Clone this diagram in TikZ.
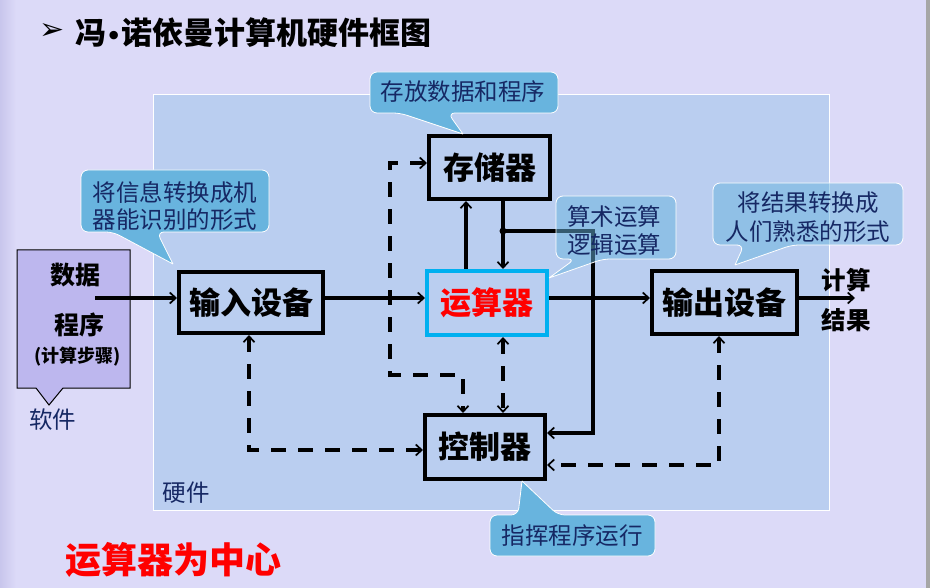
\documentclass[tikz,border=0pt]{standalone}
\usepackage{fontspec}
\setmainfont{Noto Sans CJK SC}
\newfontfamily\symfont{DejaVu Sans}
\usetikzlibrary{arrows.meta}
\definecolor{bg}{RGB}{220,218,248}
\definecolor{bgdark}{RGB}{200,198,236}
\definecolor{hw}{RGB}{186,206,240}
\definecolor{sw}{RGB}{189,183,238}
\definecolor{callfill}{RGB}{104,180,222}
\definecolor{navy}{RGB}{22,40,100}
\definecolor{cyanb}{RGB}{0,176,240}
\begin{document}
\begin{tikzpicture}[x=1pt,y=-1pt,
  unitbox/.style={draw=black,line width=4pt,inner sep=0pt,font=\fontsize{31}{31}\bfseries\selectfont},
  tip/.tip={Straight Barb[length=6pt,width=11pt,line width=1.7pt]},
  conn/.style={line width=3.2pt,-tip},
  dconn/.style={line width=3.2pt,dash pattern=on 15pt off 12pt,tip-tip},
  callout/.style={fill=callfill,draw=white,line width=0.8pt,rounded corners=7pt},
  callouttp/.style={callout,fill opacity=0.5},
  calltext/.style={text=navy,align=center,inner sep=0pt,font=\fontsize{23.5}{28}\selectfont},
  lbl/.style={inner sep=0pt,font=\fontsize{24.5}{24.5}\bfseries\selectfont}
]
\useasboundingbox (0,0) rectangle (930,588);
% background
\fill[bg] (0,0) rectangle (930,588);
\shade[left color=bgdark,right color=bg] (0,0) rectangle (16,588);
\fill[gray!70] (926,0) rectangle (930,588);
% hardware area
\draw[fill=hw,draw=white,line width=1pt] (153,95) rectangle (829,510);
\node[text=navy,inner sep=0pt,font=\fontsize{23.5}{23.5}\selectfont] (hwlbl) at (186,493) {硬件};

% title
\node[inner sep=0pt,font=\symfont\fontsize{30}{30}\selectfont] (tarrow) at (52,32) {➢};
\node[anchor=west,inner sep=0pt,font=\fontsize{31}{31}\bfseries\selectfont] (title) at (75,33) {冯{\symfont\bfseries\fontsize{24}{24}\selectfont •}诺依曼计算机硬件框图};

% software box
\path[fill=sw,draw=black,line width=1pt] (49,405) -- (36,388) -- (17,388) -- (17,250) -- (130,250) -- (130,388) -- (63,388) -- cycle;
\node[lbl,font=\fontsize{25}{25}\bfseries\selectfont] (data) at (75,275) {数据};
\node[lbl,font=\fontsize{25}{25}\bfseries\selectfont] (prog) at (79,325) {程序};
\node[lbl,font=\fontsize{18}{18}\bfseries\selectfont] (steps) at (78,357) {(计算步骤)};
\node[text=navy,inner sep=0pt,font=\fontsize{23.5}{23.5}\selectfont] (swlbl) at (53,420) {软件};

% units
\node[unitbox,minimum width=121pt,minimum height=63pt] (mem) at (489.5,167.5) {存储器};
\node[unitbox,minimum width=144pt,minimum height=61pt] (in) at (251,302.5) {输入设备};
\node[unitbox,draw=cyanb,text=red,minimum width=120pt,minimum height=64pt] (alu) at (487,303) {运算器};
\node[unitbox,minimum width=145pt,minimum height=63pt] (out) at (724.5,302.5) {输出设备};
\node[unitbox,minimum width=120pt,minimum height=64pt] (ctl) at (485,447) {控制器};

% outputs text
\node[lbl] (res1) at (846,280) {计算};
\node[lbl] (res2) at (846,320) {结果};

% helper coordinates
\coordinate (s1) at (95,298);
\coordinate (res) at (855,298);
\coordinate (xa) at (466,0);
\coordinate (xb) at (503,0);
\coordinate (dot) at (503,231);
\coordinate (c1) at (593,433);
\coordinate (d1) at (390,163);
\coordinate (d2) at (463,375);
\coordinate (d3) at (249,450);
\coordinate (d4) at (719,465);

% solid connectors
\draw[conn] (s1) -- (s1 -| in.west);
\draw[conn] (in.east |- s1) -- (alu.west |- s1);
\draw[conn] (alu.east |- s1) -- (out.west |- s1);
\draw[conn] (out.east |- s1) -- (res);
\draw[conn] (alu.north -| xa) -- (mem.south -| xa);
\draw[conn] (mem.south -| xb) -- (alu.north -| xb);
\fill (dot) circle (3.5pt);
\draw[conn] (dot) -| (c1) -- (c1 -| ctl.east);

% dashed control connectors
\draw[dconn] (mem.west |- d1) -- (d1) |- (d2) -- (d2 |- ctl.north);
\draw[dconn] (alu.south -| xb) -- (ctl.north -| xb);
\draw[dconn] (in.south -| d3) -- (d3) -- (d3 -| ctl.west);
\draw[dconn] (out.south -| d4) -- (d4) -- (d4 -| ctl.east);

% callouts
\path[callout] (463,134) -- (400,113) -- (370,113) -- (370,72) -- (558,72) -- (558,113) -- (448,113) -- (463,134);
\node[calltext] (cmem) at (463,92) {存放数据和程序};

\path[callout] (173,264) -- (113,232) -- (81,232) -- (81,170) -- (269,170) -- (269,232) -- (157,232) -- (173,264);
\node[calltext,font=\fontsize{23.5}{27}\selectfont] (cin) at (175,206.5) {将信息转换成机\\器能识别的形式};

\path[callouttp] (549,278) -- (575,259) -- (556,259) -- (556,196) -- (676,196) -- (676,259) -- (603,259) -- (549,278);
\node[calltext] (calu) at (614,231) {算术运算\\逻辑运算};

\path[callouttp] (735,265) -- (744,245) -- (713,245) -- (713,183) -- (903,183) -- (903,245) -- (792,245) -- (735,265);
\node[calltext,font=\fontsize{23.5}{29}\selectfont] (cout) at (808,217.5) {将结果转换成\\人们熟悉的形式};

\path[callout] (522,481) -- (518,515) -- (490,515) -- (490,556) -- (655,556) -- (655,515) -- (558,515) -- (522,481);
\node[calltext] (cctl) at (572,536) {指挥程序运行};

% bottom slogan
\node[anchor=west,inner sep=0pt,text=red,font=\fontsize{36}{36}\bfseries\selectfont] (slogan) at (65,560) {运算器为中心};
\end{tikzpicture}
\end{document}
